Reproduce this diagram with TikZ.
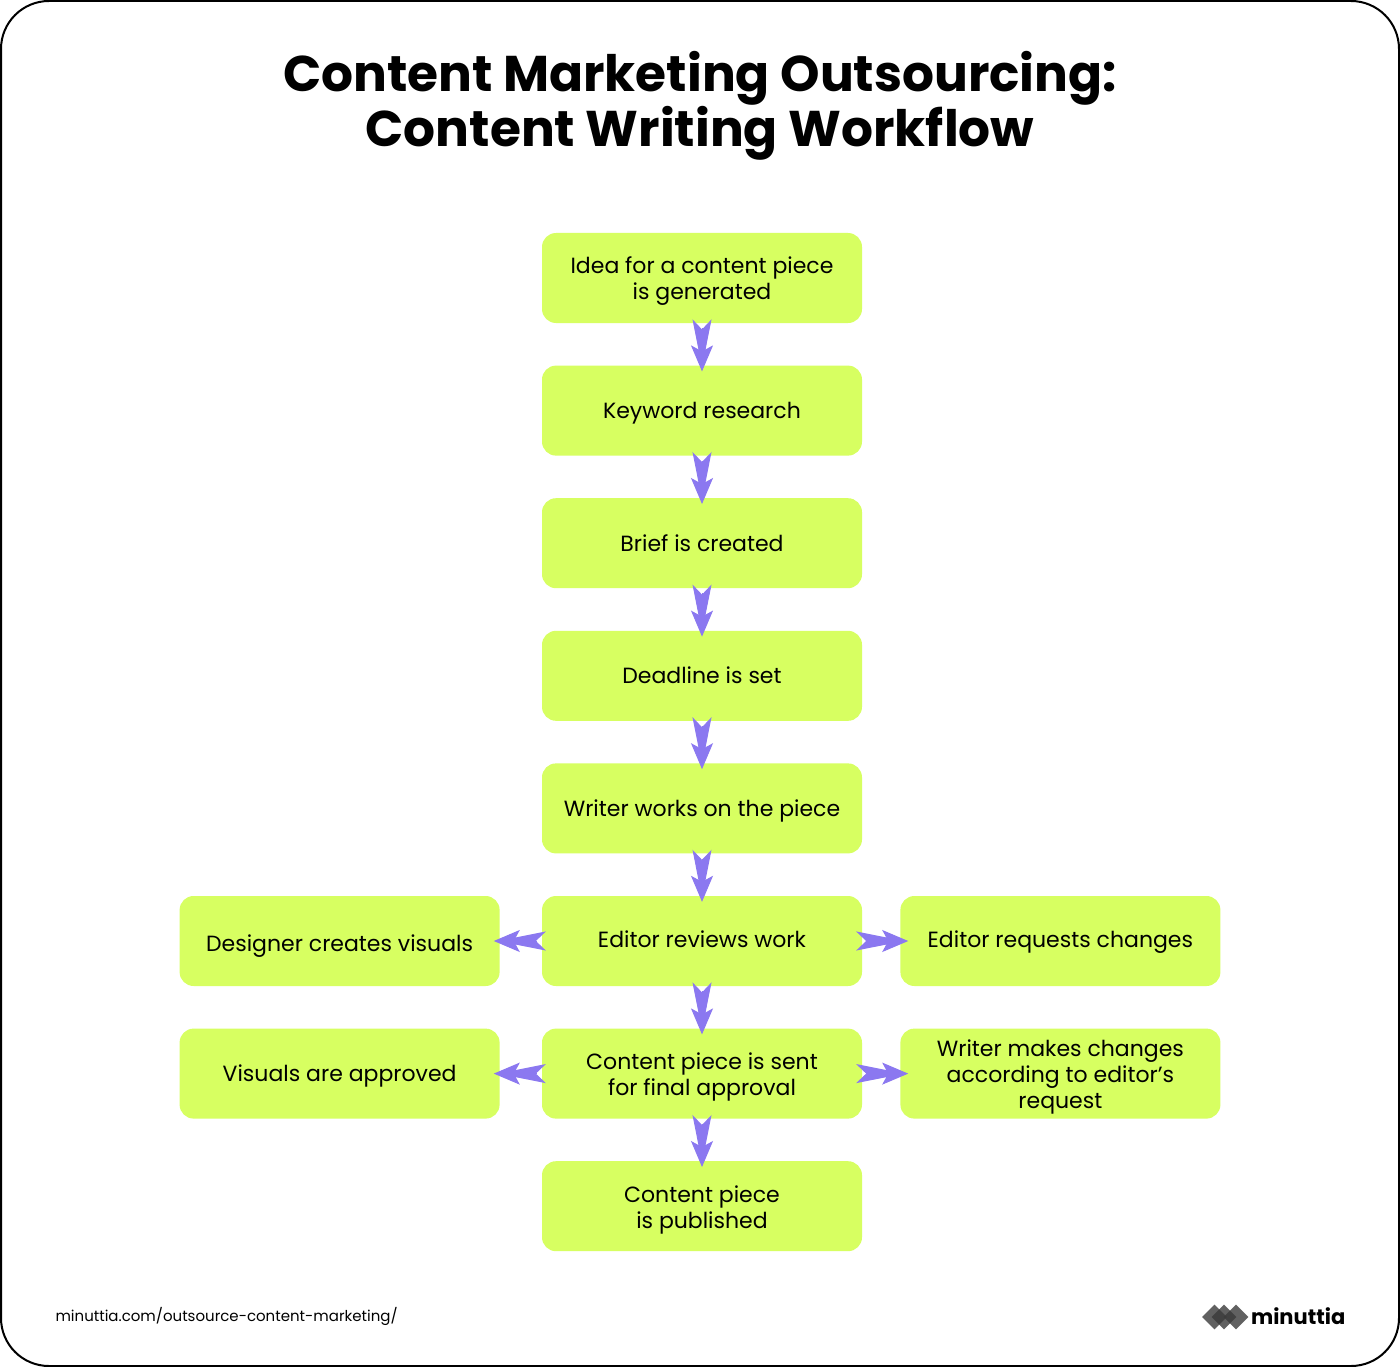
\documentclass[tikz,border=0pt]{standalone}
\usepackage{fontspec}
\usepackage{xcolor}
\setmainfont{Poppins}
\usetikzlibrary{positioning,arrows.meta,shapes.geometric}
\definecolor{lime}{HTML}{D7FF61}
\definecolor{cviolet}{HTML}{8B78F0}
\definecolor{cgray}{HTML}{3A3A3A}
\newcommand{\boxstrut}{\rule[-7.8pt]{0pt}{31.8pt}}
\newcommand{\longstrut}{\rule[-7.8pt]{0pt}{33.2pt}}
\tikzset{
  stepbox/.style={rounded corners=14pt,fill=lime,align=center,minimum width=320pt,minimum height=90pt,
                  inner sep=0pt,font=\fontsize{22}{26}\selectfont,
                  execute at begin node=\boxstrut,execute at end node=\boxstrut},
  fl/.style={-{Stealth[length=48pt,width=19pt,inset=10pt,sep=-22pt]Stealth[length=26pt,width=22pt,inset=6pt]},
             draw=cviolet,fill=cviolet,line width=1pt,shorten >=-6pt,shorten <=5pt},
  flright/.style={fl,shorten >=-8pt},
  ttl/.style={align=center,font=\fontsize{50.2}{55}\selectfont\bfseries},
  logo/.style={diamond,fill=cgray,fill opacity=.8,minimum width=25pt,minimum height=25pt,inner sep=0pt}
}
\begin{document}
\begin{tikzpicture}[x=1pt,y=1pt,node distance=42.2pt]
\useasboundingbox (0,0) rectangle (1400,-1367);
\draw[line width=2pt,rounded corners=48pt,fill=white] (1,-1) rectangle (1399,-1366);
\node[ttl] (title) at (700,-106) {Content Marketing Outsourcing:\\Content Writing Workflow};

\node[stepbox] (idea) at (702,-278) {\longstrut Idea for a content piece\\is generated};
\node[stepbox,below=of idea] (kw) {Keyword research};
\node[stepbox,below=of kw] (brief) {Brief is created};
\node[stepbox,below=of brief] (deadline) {Deadline is set};
\node[stepbox,below=of deadline] (writer) {Writer works on the piece};
\node[stepbox,below=of writer] (editor) {\raisebox{2pt}{Editor reviews work}};
\node[stepbox,below=of editor] (final) {\longstrut Content piece is sent\\for final approval};
\node[stepbox,below=of final] (pub) {\longstrut Content piece\\is published};

\node[stepbox,left=42pt of editor] (design) {\raisebox{-2pt}{Designer creates visuals}};
\node[stepbox,right=38pt of editor] (req) {\raisebox{2pt}{Editor requests changes}};
\node[stepbox,left=42pt of final] (appr) {Visuals are approved};
\node[stepbox,right=38pt of final] (change) {\longstrut Writer makes changes\\according to editor’s\\request};

\draw[fl] (idea) -- (kw);
\draw[fl] (kw) -- (brief);
\draw[fl] (brief) -- (deadline);
\draw[fl] (deadline) -- (writer);
\draw[fl] (writer) -- (editor);
\draw[fl] (editor) -- (final);
\draw[fl] (final) -- (pub);
\draw[fl] (editor) -- (design);
\draw[flright] (editor) -- (req);
\draw[fl] (final) -- (appr);
\draw[flright] (final) -- (change);

\node[anchor=west,font=\fontsize{15}{18}\selectfont] (url) at (52,-1316) {minuttia.com/outsource-content-marketing/};
\node[anchor=west,font=\fontsize{21}{26}\selectfont\bfseries] (brand) at (1247.5,-1316) {minuttia};
\node[logo] (d1) at (1214.5,-1317) {};
\node[logo] (d2) at (1224,-1317) {};
\node[logo] (d3) at (1236,-1317) {};
\end{tikzpicture}
\end{document}
